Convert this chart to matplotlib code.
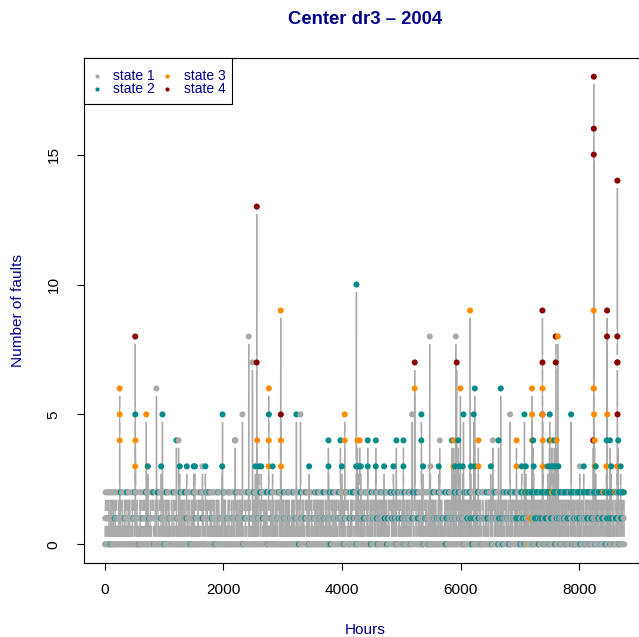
import numpy as np
import matplotlib
matplotlib.use("Agg")
import matplotlib.pyplot as plt
from matplotlib.collections import LineCollection
from matplotlib.patches import Rectangle

plt.rcParams['font.family'] = ['Liberation Sans', 'DejaVu Sans']

# ---------------- data ----------------
TITLE = "Center dr3 \u2013 2004"
X_LABEL = "Hours"
Y_LABEL = "Number of faults"
X_TICKS = [0, 2000, 4000, 6000, 8000]
Y_TICKS = [0, 5, 10, 15]
STATE_LABELS = ["state 1", "state 2", "state 3", "state 4"]
STATE_COLORS = ["#A9A9A9", "#008B8B", "#FF8C00", "#8B0000"]

# Baseline hourly fault counts (0-2), one code per ~6 hours, read row by row
# digits = state 1 at that level; a/b/c = state 2 at level 0/1/2; A/B/C = state 3 at level 0/1/2
baseline_rows = [
    "01210012101201102a1021002010b201210b101201200c10120110102b01201c1002011201",
    "10012012b100c1201021010a0120121001b21001210c10201021b01021001212c1a010210",
    "0121c010012210b01201021a10210c10120120b1001220101c0012210010b10201201c0102",
    "1201020c0101b20102101200a1020120c10210b21001020121001c1210b0210012102c1201",
    "012c1020120b01210201a10210201c20100b10210121c020120101b10210c210010201b1201",
    "10122c0120b10201201202010a0121b02100121c1020121001b1020c01201021010b10221c0",
    "0c1210b2010210210c01a01221010c0b1020120101020120b121c020100121021c0b1020120",
    "1020c120b101021200c01201b010210210a2101c0b1020120101b2c10210201a012b102010",
    "012b10c0201201c0102b1201020120c1b01020120100b102c0a121021c0b10210201210b12",
    "c0102b12010C20a10b012c210120100b0c102012c1b0012c20a10b102012c0b10201201b20",
    "0b12c2010210b1020a1c0102b1201020c1b20a1020120b1c02010210b020c12a1b0020122c",
    "1c0b20120c1b0201a012c1b0201210b0c2012a0c1b10200120b1c0201a021b2c010b12c201",
    "0c1b0020120b1202010a1012b20120b10201a0012020120c0b1020201b0102c0b12020120b1",
    "b01102c0a1b20201c0b1202010b120102c0b10200121c0b10201201b102a0c01220c1b20201",
    "0c1b0020a12b0201b0210020c1b0020120a0b1c2010b10220c1b0020c12b1002a20b12c201",
    "c0b102012a1b0020120b20a1c012b120c0b10220a1c0b1020c12b1020c01b0c2021b0020a1c",
    "0c1b0c20a1c0b0c1C0cA0c1B0c20c0b1c0a0c1b0c20c1b0c0a1c0b20c1b0c0c1a0c1b0c20c",
    "b0c1c0a0c1b0c2C0b1c0c0a1c0b0c1c20b0c1a0c0b1c0c2b0c1c0a0c1b0c0c21b0c1c0a0c",
    "1c0b0c1a0c2b0c1c0b0c0a1c0b1c20c0b1a0c1c0b2c0b0c1a0c1b0c20b1c0c1a0b1c0c20b",
    "c0b1c0a0c1b0c2C0b1c0a1c0b0c20c1b0a0c1b0c2c0b1a0C1b0c0c20b1c0a0c1b0c2c0b1c0",
]

# Higher counts (>= 3) at individual hours
spike_hours = [250, 251, 252, 513, 514, 515, 516, 700, 722, 726, 871, 950, 973,
               1208, 1245, 1265, 1383, 1500, 1520, 1647, 1697, 1980, 1986, 2196, 2200,
               2322, 2428, 2490, 2540, 2562, 2563, 2570, 2600, 2640, 2764, 2765, 2766, 2767,
               2830, 2968, 2969, 2970, 2971, 3232, 3300, 3446, 3772, 3773, 3974, 3997,
               4046, 4047, 4240, 4244, 4261, 4280, 4300, 4317, 4434, 4435, 4570, 4571,
               4710, 4868, 4918, 5036, 5037, 5183, 5226, 5227, 5339, 5340, 5368, 5480, 5492,
               5632, 5649, 5855, 5880, 5885, 5905, 5920, 5935, 5960, 5975, 5998, 6037, 6049,
               6160, 6175, 6222, 6240, 6245, 6300, 6301, 6510, 6545, 6640, 6678, 6835,
               6943, 6944, 7030, 7077, 7100, 7205, 7206, 7207, 7225, 7232,
               7380, 7381, 7382, 7383, 7384, 7386, 7390, 7470, 7500, 7504, 7520, 7540,
               7560, 7580, 7600, 7605, 7606, 7620, 7640, 7650, 7864, 8010, 8077,
               8235, 8240, 8244, 8245, 8246, 8247, 8248, 8250, 8252, 8260, 8262, 8280,
               8460, 8465, 8470, 8471, 8475, 8520, 8540,
               8640, 8643, 8644, 8645, 8646, 8647, 8660, 8700]
spike_values = [4, 6, 5, 3, 8, 5, 4, 5, 3, 3, 6, 3, 5,
                4, 4, 3, 3, 3, 3, 3, 3, 3, 5, 4, 4,
                5, 8, 7, 3, 7, 13, 4, 3, 3, 3, 4, 6, 5,
                3, 9, 5, 4, 3, 5, 5, 3, 4, 3, 4, 3,
                4, 5, 3, 10, 4, 3, 4, 3, 3, 4, 3, 4,
                3, 3, 4, 3, 4, 5, 6, 7, 4, 5, 3, 8, 3,
                3, 4, 4, 3, 4, 3, 8, 7, 4, 3, 6, 3, 5,
                9, 3, 5, 6, 3, 4, 3, 3, 4, 4, 6, 5,
                4, 3, 3, 5, 3, 4, 6, 5, 4, 3,
                5, 9, 7, 6, 5, 4, 3, 3, 4, 5, 3, 4,
                3, 4, 3, 7, 8, 4, 8, 3, 5, 3, 3,
                4, 4, 6, 9, 15, 16, 18, 6, 5, 3, 4, 3,
                3, 4, 8, 9, 5, 4, 3,
                3, 7, 8, 14, 7, 5, 4, 3]
spike_states = [3, 3, 3, 3, 4, 2, 3, 3, 3, 2, 1, 2, 2,
                2, 1, 2, 2, 2, 2, 1, 2, 2, 2, 2, 1,
                1, 1, 1, 2, 4, 4, 3, 2, 2, 3, 3, 3, 2,
                2, 3, 4, 3, 3, 2, 1, 2, 2, 2, 2, 2,
                3, 3, 2, 2, 3, 2, 3, 2, 2, 2, 2, 2,
                2, 2, 2, 2, 2, 1, 3, 4, 2, 2, 2, 1, 1,
                2, 1, 2, 3, 3, 2, 1, 4, 2, 2, 3, 2, 2,
                3, 2, 2, 2, 2, 3, 3, 2, 1, 2, 2, 1,
                3, 3, 2, 2, 2, 3, 3, 3, 2, 2,
                4, 4, 4, 3, 3, 3, 3, 2, 2, 2, 2, 3,
                2, 2, 2, 4, 4, 3, 3, 2, 2, 1, 2,
                1, 4, 3, 3, 4, 4, 4, 3, 3, 3, 3, 2,
                3, 2, 4, 4, 3, 2, 2,
                3, 4, 4, 4, 4, 4, 2, 2]

# ---------------- build series ----------------
CODE = {'0': (0, 1), '1': (1, 1), '2': (2, 1),
        'a': (0, 2), 'b': (1, 2), 'c': (2, 2),
        'A': (0, 3), 'B': (1, 3), 'C': (2, 3)}
codes = "".join(baseline_rows)
base_vals = np.array([CODE[ch][0] for ch in codes], dtype=float)
base_states = np.array([CODE[ch][1] for ch in codes])
base_hours = np.linspace(1, 8760, len(codes)) + 0.5

hours = np.concatenate([base_hours, np.array(spike_hours, dtype=float)])
vals = np.concatenate([base_vals, np.array(spike_values, dtype=float)])
states = np.concatenate([base_states, np.array(spike_states)])
order = np.argsort(hours, kind="stable")
hours, vals, states = hours[order], vals[order], states[order]

# ---------------- figure ----------------
W, H = 639, 637
DPI = 100
fig = plt.figure(figsize=(W / DPI, H / DPI), dpi=DPI)
L_PX, R_PX, T_PX, B_PX = 84, 645, 58, 563
ax = fig.add_axes([L_PX / W, (H - B_PX) / H, (R_PX - L_PX) / W, (B_PX - T_PX) / H])
ax.set_xlim(-350.4, 9110.4)
ax.set_ylim(-0.72, 18.72)

NAVY = "#00008B"

# type="b" style lines: gaps around every point
GAP = 7.5
disp = ax.transData.transform(np.column_stack([hours, vals]))
d = disp[1:] - disp[:-1]
seglen = np.hypot(d[:, 0], d[:, 1])
keep = seglen > 2 * GAP
u = d[keep] / seglen[keep][:, None]
a = disp[:-1][keep] + u * GAP
b = disp[1:][keep] - u * GAP
inv = ax.transData.inverted()
segs = np.stack([inv.transform(a), inv.transform(b)], axis=1)
ax.add_collection(LineCollection(segs, colors=STATE_COLORS[0], linewidths=1.0, zorder=2))

cols = [STATE_COLORS[s - 1] for s in states]
ax.scatter(hours, vals, c=cols, s=19, linewidths=0, zorder=3)

# axes styling
for sp in ax.spines.values():
    sp.set_linewidth(0.8)
    sp.set_color("black")
ax.set_xticks(X_TICKS)
ax.set_yticks(Y_TICKS)
ax.set_xticklabels([str(t) for t in X_TICKS], fontsize=11.1)
ax.set_yticklabels([str(t) for t in Y_TICKS], fontsize=11.1, rotation=90, va="center")
ax.tick_params(axis="x", direction="out", length=5, width=0.8, pad=9.5)
ax.tick_params(axis="y", direction="out", length=5, width=0.8, pad=12)

def fx(px):
    return px / W

def fy(py):
    return 1 - py / H

fig.text(fx(365), fy(20), TITLE, fontsize=13.3, fontweight="bold", color=NAVY,
         ha="center", va="center")
fig.text(fx(365), fy(630), X_LABEL, fontsize=11.1, color=NAVY, ha="center", va="center")
fig.text(fx(18), fy(310), Y_LABEL, fontsize=11.1, color=NAVY, ha="center", va="center",
         rotation=90)

# legend box
fig.patches.append(Rectangle((fx(84), fy(104)), fx(232) - fx(84), fy(58) - fy(104),
                             transform=fig.transFigure, fill=True, facecolor="white",
                             edgecolor="black", linewidth=0.8, zorder=5))
leg_pos = [(96.7, 75.7), (96.7, 89.3), (167.3, 75.7), (167.3, 89.3)]
for (mx, my), lab, col in zip(leg_pos, STATE_LABELS, STATE_COLORS):
    fig.add_artist(plt.Line2D([fx(mx)], [fy(my)], transform=fig.transFigure, marker="o",
                              markersize=3.0, markeredgewidth=0, color=col, zorder=6))
    fig.text(fx(mx + 16.5), fy(my), lab, fontsize=10, color=NAVY, ha="left", va="center",
             zorder=6)

fig.savefig("out.png", dpi=DPI)
